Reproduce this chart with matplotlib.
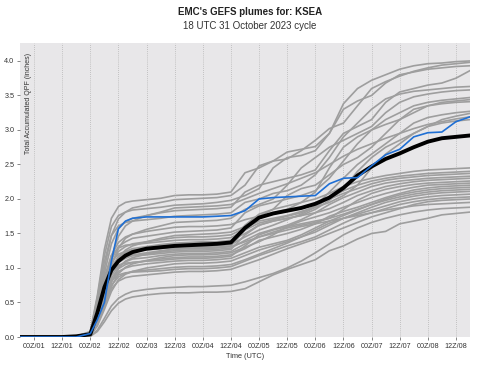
import matplotlib
matplotlib.use("Agg")
import matplotlib.pyplot as plt

plt.rcParams['font.family'] = ['Liberation Sans', 'DejaVu Sans']

# forecast hour relative to 00Z/01
hours = [-6, 0, 6, 12, 18, 24, 27, 30, 33, 36, 39, 42, 48, 54, 60,
         66, 72, 78, 84, 90, 96, 102, 108, 114, 120, 126, 132, 138, 144,
         150, 156, 162, 168, 174, 180, 186]

tick_hours = [0, 12, 24, 36, 48, 60, 72, 84, 96, 108, 120, 132, 144, 156, 168, 180]
tick_labels = ["00Z/01", "12Z/01", "00Z/02", "12Z/02", "00Z/03", "12Z/03",
               "00Z/04", "12Z/04", "00Z/05", "12Z/05", "00Z/06", "12Z/06",
               "00Z/07", "12Z/07", "00Z/08", "12Z/08"]

# ensemble members (inches)
members = [
    [0, 0, 0, 0, 0.01, 0.08, 0.6, 1.27, 1.72, 1.89, 1.95, 1.97, 1.99, 2.01, 2.05,
     2.06, 2.06, 2.07, 2.10, 2.38, 2.45, 2.55, 2.68, 2.72, 2.76, 2.95, 3.38, 3.6, 3.72, 3.8, 3.88, 3.93, 3.96, 3.97, 3.99, 4.0],
    [0, 0, 0, 0, 0, 0.06, 0.44, 1.0, 1.47, 1.71, 1.81, 1.87, 1.91, 1.95, 1.99,
     2.0, 2.01, 2.02, 2.05, 2.2, 2.48, 2.55, 2.58, 2.7, 2.85, 3.02, 3.1, 3.35, 3.6, 3.7, 3.78, 3.85, 3.9, 3.94, 3.96, 3.98],
    [0, 0, 0, 0, 0.01, 0.07, 0.57, 1.18, 1.6, 1.76, 1.81, 1.84, 1.86, 1.88, 1.91,
     1.92, 1.93, 1.95, 1.98, 2.05, 2.15, 2.45, 2.6, 2.63, 2.7, 2.95, 3.3, 3.42, 3.5, 3.68, 3.8, 3.84, 3.88, 3.9, 3.92, 3.93],
    [0, 0, 0, 0, 0, 0.05, 0.4, 0.92, 1.35, 1.57, 1.67, 1.72, 1.76, 1.8, 1.83,
     1.84, 1.85, 1.86, 1.88, 2.1, 2.2, 2.25, 2.3, 2.35, 2.42, 2.7, 2.95, 3.05, 3.15, 3.4, 3.55, 3.6, 3.65, 3.68, 3.75, 3.86],
    [0, 0, 0, 0, 0.01, 0.07, 0.52, 1.09, 1.47, 1.61, 1.66, 1.68, 1.7, 1.72, 1.75,
     1.76, 1.77, 1.78, 1.8, 1.95, 2.0, 2.08, 2.12, 2.2, 2.35, 2.6, 2.9, 3.1, 3.3, 3.45, 3.52, 3.56, 3.58, 3.6, 3.62, 3.63],
    [0, 0, 0, 0, 0, 0.03, 0.25, 0.63, 1.03, 1.29, 1.43, 1.49, 1.56, 1.61, 1.66,
     1.67, 1.68, 1.69, 1.72, 1.85, 1.92, 2.0, 2.2, 2.45, 2.6, 2.75, 2.85, 2.95, 3.05, 3.25, 3.4, 3.48, 3.52, 3.55, 3.57, 3.58],
    [0, 0, 0, 0, 0, 0.05, 0.33, 0.76, 1.12, 1.31, 1.38, 1.43, 1.46, 1.49, 1.52,
     1.53, 1.54, 1.55, 1.58, 1.8, 1.9, 1.95, 2.0, 2.05, 2.12, 2.3, 2.55, 2.8, 3.0, 3.15, 3.25, 3.35, 3.4, 3.43, 3.45, 3.47],
    [0, 0, 0, 0, 0, 0.03, 0.22, 0.56, 0.91, 1.15, 1.26, 1.32, 1.38, 1.43, 1.47,
     1.48, 1.49, 1.5, 1.52, 1.6, 1.72, 1.8, 1.85, 1.95, 2.1, 2.45, 2.75, 2.9, 3.0, 3.08, 3.15, 3.25, 3.35, 3.4, 3.42, 3.44],
    [0, 0, 0, 0, 0, 0.05, 0.35, 0.8, 1.18, 1.37, 1.45, 1.49, 1.53, 1.56, 1.59,
     1.6, 1.6, 1.61, 1.63, 1.7, 1.75, 1.85, 2.05, 2.15, 2.2, 2.35, 2.5, 2.6, 2.75, 2.95, 3.15, 3.3, 3.35, 3.38, 3.4, 3.41],
    [0, 0, 0, 0, 0.01, 0.05, 0.42, 0.87, 1.18, 1.29, 1.33, 1.34, 1.36, 1.38, 1.4,
     1.41, 1.41, 1.42, 1.44, 1.55, 1.65, 1.7, 1.75, 1.8, 1.9, 2.1, 2.3, 2.5, 2.65, 2.8, 2.95, 3.1, 3.18, 3.22, 3.25, 3.27],
    [0, 0, 0, 0, 0, 0.04, 0.3, 0.68, 1.0, 1.17, 1.24, 1.28, 1.31, 1.34, 1.36,
     1.37, 1.38, 1.38, 1.4, 1.5, 1.62, 1.68, 1.72, 1.76, 1.85, 1.98, 2.15, 2.4, 2.6, 2.75, 2.85, 2.95, 3.05, 3.15, 3.2, 3.24],
    [0, 0, 0, 0, 0, 0.04, 0.28, 0.71, 1.16, 1.46, 1.61, 1.68, 1.76, 1.81, 1.87,
     1.88, 1.89, 1.9, 1.92, 2.0, 2.08, 2.15, 2.22, 2.3, 2.38, 2.5, 2.62, 2.72, 2.8, 2.88, 2.95, 3.02, 3.08, 3.12, 3.16, 3.19],
    [0, 0, 0, 0, 0, 0.04, 0.32, 0.72, 1.07, 1.24, 1.31, 1.35, 1.38, 1.41, 1.44,
     1.45, 1.45, 1.46, 1.48, 1.58, 1.68, 1.72, 1.76, 1.82, 1.88, 1.95, 2.05, 2.2, 2.45, 2.65, 2.8, 2.95, 3.05, 3.1, 3.13, 3.15],
    [0, 0, 0, 0, 0, 0.04, 0.29, 0.67, 0.99, 1.15, 1.22, 1.26, 1.29, 1.32, 1.34,
     1.35, 1.36, 1.36, 1.38, 1.62, 1.78, 1.85, 1.9, 1.95, 2.0, 2.08, 2.18, 2.25, 2.3, 2.34, 2.37, 2.4, 2.42, 2.43, 2.44, 2.45],
    [0, 0, 0, 0, 0.01, 0.05, 0.39, 0.81, 1.09, 1.2, 1.24, 1.25, 1.26, 1.28, 1.3,
     1.31, 1.31, 1.32, 1.34, 1.45, 1.55, 1.62, 1.7, 1.78, 1.88, 2.02, 2.12, 2.2, 2.26, 2.3, 2.33, 2.35, 2.37, 2.38, 2.39, 2.4],
    [0, 0, 0, 0, 0, 0.03, 0.19, 0.49, 0.79, 1.0, 1.1, 1.15, 1.2, 1.24, 1.28,
     1.29, 1.3, 1.3, 1.32, 1.55, 1.72, 1.78, 1.82, 1.86, 1.92, 2.0, 2.08, 2.15, 2.22, 2.27, 2.3, 2.32, 2.34, 2.35, 2.36, 2.37],
    [0, 0, 0, 0, 0, 0.04, 0.28, 0.63, 0.93, 1.08, 1.14, 1.18, 1.2, 1.23, 1.25,
     1.26, 1.26, 1.27, 1.29, 1.4, 1.5, 1.56, 1.62, 1.7, 1.8, 1.92, 2.02, 2.1, 2.18, 2.23, 2.26, 2.28, 2.3, 2.31, 2.32, 2.33],
    [0, 0, 0, 0, 0.01, 0.05, 0.37, 0.76, 1.03, 1.13, 1.17, 1.18, 1.19, 1.21, 1.23,
     1.24, 1.24, 1.25, 1.27, 1.48, 1.62, 1.68, 1.72, 1.76, 1.8, 1.86, 1.95, 2.05, 2.12, 2.18, 2.22, 2.25, 2.27, 2.28, 2.29, 2.3],
    [0, 0, 0, 0, 0, 0.04, 0.26, 0.6, 0.89, 1.03, 1.09, 1.13, 1.15, 1.18, 1.2,
     1.21, 1.21, 1.22, 1.24, 1.35, 1.45, 1.52, 1.58, 1.62, 1.66, 1.72, 1.85, 1.98, 2.08, 2.14, 2.18, 2.21, 2.23, 2.24, 2.25, 2.26],
    [0, 0, 0, 0, 0, 0.02, 0.18, 0.45, 0.73, 0.92, 1.01, 1.06, 1.11, 1.15, 1.18,
     1.19, 1.19, 1.2, 1.22, 1.3, 1.38, 1.48, 1.6, 1.68, 1.74, 1.8, 1.88, 1.95, 2.02, 2.08, 2.13, 2.17, 2.2, 2.21, 2.22, 2.23],
    [0, 0, 0, 0, 0, 0.03, 0.25, 0.58, 0.85, 0.99, 1.05, 1.08, 1.1, 1.13, 1.15,
     1.16, 1.16, 1.17, 1.19, 1.28, 1.4, 1.45, 1.5, 1.56, 1.64, 1.75, 1.82, 1.88, 1.95, 2.02, 2.08, 2.13, 2.16, 2.18, 2.19, 2.2],
    [0, 0, 0, 0, 0.01, 0.05, 0.34, 0.7, 0.95, 1.04, 1.07, 1.08, 1.1, 1.11, 1.13,
     1.14, 1.14, 1.15, 1.17, 1.32, 1.48, 1.55, 1.6, 1.64, 1.68, 1.72, 1.78, 1.85, 1.92, 2.0, 2.06, 2.1, 2.13, 2.15, 2.16, 2.17],
    [0, 0, 0, 0, 0, 0.03, 0.24, 0.55, 0.81, 0.95, 1.0, 1.03, 1.06, 1.08, 1.1,
     1.11, 1.11, 1.12, 1.14, 1.22, 1.3, 1.35, 1.4, 1.48, 1.58, 1.68, 1.76, 1.84, 1.92, 1.98, 2.03, 2.07, 2.1, 2.12, 2.13, 2.14],
    [0, 0, 0, 0, 0, 0.02, 0.16, 0.4, 0.66, 0.83, 0.91, 0.95, 1.0, 1.03, 1.06,
     1.07, 1.07, 1.08, 1.1, 1.18, 1.26, 1.32, 1.38, 1.45, 1.52, 1.62, 1.72, 1.8, 1.88, 1.95, 2.0, 2.04, 2.07, 2.09, 2.1, 2.11],
    [0, 0, 0, 0, 0, 0.03, 0.22, 0.5, 0.75, 0.87, 0.92, 0.95, 0.97, 0.99, 1.01,
     1.02, 1.02, 1.03, 1.05, 1.12, 1.2, 1.28, 1.36, 1.45, 1.55, 1.65, 1.72, 1.78, 1.84, 1.9, 1.96, 2.0, 2.03, 2.05, 2.06, 2.07],
    [0, 0, 0, 0, 0.01, 0.04, 0.29, 0.61, 0.82, 0.9, 0.93, 0.94, 0.95, 0.96, 0.98,
     0.99, 0.99, 1.0, 1.02, 1.1, 1.18, 1.25, 1.32, 1.38, 1.45, 1.55, 1.65, 1.74, 1.8, 1.86, 1.92, 1.96, 1.99, 2.01, 2.02, 2.03],
    [0, 0, 0, 0, 0, 0.03, 0.21, 0.47, 0.7, 0.81, 0.86, 0.88, 0.9, 0.92, 0.94,
     0.95, 0.95, 0.96, 0.98, 1.05, 1.12, 1.2, 1.28, 1.35, 1.42, 1.5, 1.58, 1.66, 1.74, 1.8, 1.86, 1.92, 1.96, 1.98, 1.99, 2.0],
    [0, 0, 0, 0, 0, 0.04, 0.28, 0.64, 0.94, 1.09, 1.16, 1.19, 1.22, 1.25, 1.27,
     1.28, 1.28, 1.29, 1.31, 1.38, 1.45, 1.5, 1.55, 1.6, 1.64, 1.68, 1.72, 1.76, 1.8, 1.84, 1.87, 1.9, 1.92, 1.93, 1.94, 1.95],
    [0, 0, 0, 0, 0, 0.01, 0.1, 0.27, 0.45, 0.56, 0.62, 0.66, 0.69, 0.71, 0.72,
     0.73, 0.73, 0.74, 0.75, 0.8, 0.86, 0.92, 1.0, 1.1, 1.22, 1.35, 1.48, 1.58, 1.66, 1.72, 1.77, 1.81, 1.84, 1.86, 1.87, 1.88],
    [0, 0, 0, 0, 0, 0.01, 0.08, 0.22, 0.38, 0.49, 0.55, 0.58, 0.61, 0.63, 0.64,
     0.64, 0.65, 0.65, 0.66, 0.7, 0.8, 0.9, 0.98, 1.05, 1.12, 1.25, 1.32, 1.42, 1.5, 1.53, 1.64, 1.68, 1.72, 1.77, 1.79, 1.81],
]

ens_mean = [0, 0, 0, 0, 0.01, 0.04, 0.35, 0.72, 0.97, 1.1, 1.18, 1.23, 1.28, 1.3, 1.32,
            1.33, 1.34, 1.35, 1.37, 1.58, 1.73, 1.79, 1.83, 1.87, 1.93, 2.02, 2.16, 2.34,
            2.47, 2.58, 2.66, 2.75, 2.83, 2.88, 2.9, 2.92]

gfs = [0, 0, 0, 0, 0, 0.05, 0.25, 0.5, 1.1, 1.57, 1.68, 1.72, 1.74, 1.74, 1.74,
       1.74, 1.74, 1.75, 1.76, 1.83, 2.0, 2.02, 2.03, 2.04, 2.05, 2.22, 2.3, 2.31,
       2.48, 2.64, 2.72, 2.9, 2.96, 2.97, 3.12, 3.19]

fig = plt.figure(figsize=(4.84, 3.66), dpi=100)
ax = fig.add_axes([20 / 484, 29 / 366, 450 / 484, 294 / 366])
ax.set_facecolor('#e8e7e9')
for s in ax.spines.values():
    s.set_visible(False)

for m in members:
    ax.plot(hours, m, color='#9e9e9e', linewidth=1.2)
ax.plot(hours, ens_mean, color='black', linewidth=2.8)
ax.plot(hours, gfs, color='#1f6fd4', linewidth=1.2)

ax.set_xlim(-6, 186)
ax.set_ylim(0, 4.26)
ax.set_xticks(tick_hours)
ax.set_xticklabels(tick_labels)
ax.set_yticks([0, 0.5, 1.0, 1.5, 2.0, 2.5, 3.0, 3.5, 4.0])
ax.set_yticklabels(["0.0", "0.5", "1.0", "1.5", "2.0", "2.5", "3.0", "3.5", "4.0"])
ax.tick_params(labelsize=5.2, length=2.5, width=0.5, color='#555555',
               labelcolor='#333333', pad=1.5)
ax.grid(axis='x', color='#b5b5b5', linestyle=(0, (1, 1.5)), linewidth=0.6)
ax.set_axisbelow(True)

ax.text(0.018, 0.966, "Total Accumulated QPF (inches)", rotation=90,
        transform=ax.transAxes, ha='center', va='top', fontsize=5, color='#333333')

fig.text(250 / 484, 1 - 12 / 366, "EMC's GEFS plumes for: KSEA", ha='center', va='center',
         fontsize=7, fontweight='bold', color='#222222')
fig.text(250 / 484, 1 - 26 / 366, "18 UTC 31 October 2023 cycle", ha='center', va='center',
         fontsize=7, color='#333333')
fig.text(245 / 484, 9 / 366, "Time (UTC)", ha='center', va='center', fontsize=5.3,
         color='#333333')

fig.savefig("out.png", dpi=100)
